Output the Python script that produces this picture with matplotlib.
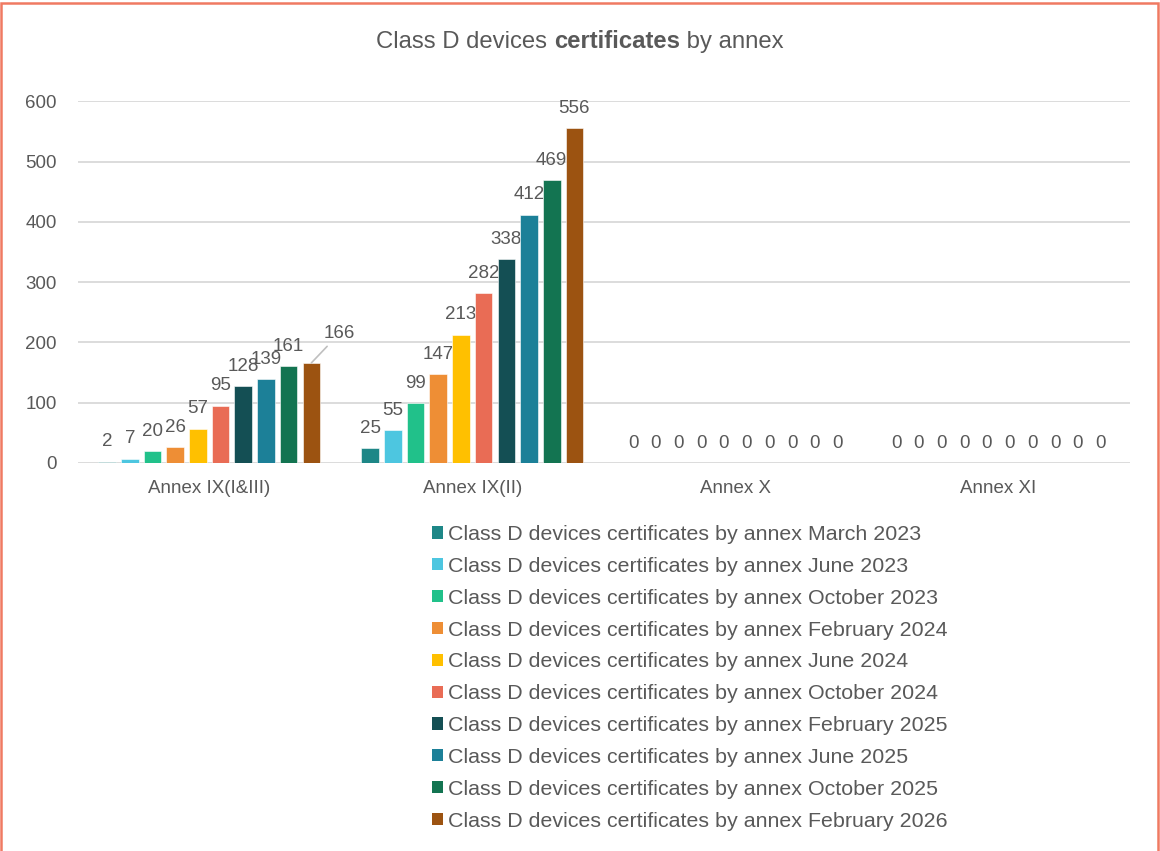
import matplotlib
matplotlib.use("Agg")
import matplotlib.pyplot as plt
from matplotlib.patches import Rectangle, Patch
import numpy as np

plt.rcParams['font.family'] = ['Liberation Sans', 'DejaVu Sans']

categories = ["Annex IX(I&III)", "Annex IX(II)", "Annex X", "Annex XI"]
periods = ["March 2023", "June 2023", "October 2023", "February 2024", "June 2024",
           "October 2024", "February 2025", "June 2025", "October 2025", "February 2026"]
colors = ["#1E8787", "#4DC6E0", "#21C18A", "#EE8E35", "#FFC000",
          "#E96C55", "#144F54", "#1C8098", "#137451", "#9C5311"]

mar_2023 = [2, 25, 0, 0]
jun_2023 = [7, 55, 0, 0]
oct_2023 = [20, 99, 0, 0]
feb_2024 = [26, 147, 0, 0]
jun_2024 = [57, 213, 0, 0]
oct_2024 = [95, 282, 0, 0]
feb_2025 = [128, 338, 0, 0]
jun_2025 = [139, 412, 0, 0]
oct_2025 = [161, 469, 0, 0]
feb_2026 = [166, 556, 0, 0]
series = [mar_2023, jun_2023, oct_2023, feb_2024, jun_2024,
          oct_2024, feb_2025, jun_2025, oct_2025, feb_2026]

text_col = "#595959"
fig = plt.figure(figsize=(11.6, 8.51), dpi=100)
ax = fig.add_axes([0.067, 0.456, 0.907, 0.425])

x = np.arange(len(categories))
step = 0.0863
width = 0.067
n = len(series)
label_size = 13.5
for i, (vals, col) in enumerate(zip(series, colors)):
    pos = x + (i - (n - 1) / 2) * step
    ax.bar(pos, vals, width=width, color=col, edgecolor="white", linewidth=0.4, zorder=3)
    for j, (px, v) in enumerate(zip(pos, vals)):
        if i == n - 1 and j == 0:
            ax.annotate(str(v), xy=(px, v), xytext=(px + 0.108, v + 42),
                        ha="center", va="baseline", fontsize=label_size, color=text_col,
                        arrowprops=dict(arrowstyle="-", color="#BFBFBF", lw=1.2,
                                        shrinkA=2, shrinkB=0))
        else:
            ax.annotate(str(v), xy=(px, v), xytext=(0, 11), textcoords="offset points",
                        ha="center", va="baseline", fontsize=label_size, color=text_col)

ax.set_xlim(-0.5, 3.5)
ax.set_ylim(0, 600)
ax.set_yticks(range(0, 601, 100))
ax.set_xticks(x)
ax.set_xticklabels(categories)
ax.tick_params(axis="both", length=0, labelsize=13.5, labelcolor=text_col)
ax.tick_params(axis="x", pad=12)
ax.tick_params(axis="y", pad=15)
ax.grid(axis="y", color="#D9D9D9", lw=1.3, zorder=0)
for s in ax.spines.values():
    s.set_visible(False)

handles = [Patch(facecolor=c, edgecolor="none") for c in colors]
labels = ["Class D devices certificates by annex " + p for p in periods]
fig.legend(handles, labels, loc="upper left", bbox_to_anchor=(0.3725, 0.383),
           frameon=False, fontsize=15.4, handlelength=0.5, handleheight=0.5,
           handletextpad=0.25, labelspacing=0.6, labelcolor=text_col,
           borderaxespad=0, borderpad=0)

# title with a bold middle word
fig.canvas.draw()
renderer = fig.canvas.get_renderer()
parts = [("Class D devices ", "normal"), ("certificates", "bold"), (" by annex", "normal")]
tsize = 17.2
objs = [fig.text(0, 0, t, fontsize=tsize, fontweight=w, color=text_col, va="baseline")
        for t, w in parts]
widths = [o.get_window_extent(renderer).width for o in objs]
total = sum(widths)
fw = fig.get_figwidth() * fig.dpi
xs = fw / 2 - total / 2
ybase = 1 - 48 / 851
for o, w in zip(objs, widths):
    o.set_position((xs / fw, ybase))
    xs += w

fig.patches.append(Rectangle((0.0008, -0.05), 0.9974, 1.0462, transform=fig.transFigure,
                             fill=False, edgecolor="#F07A62", lw=1.8))

fig.savefig("out.png", dpi=100)
